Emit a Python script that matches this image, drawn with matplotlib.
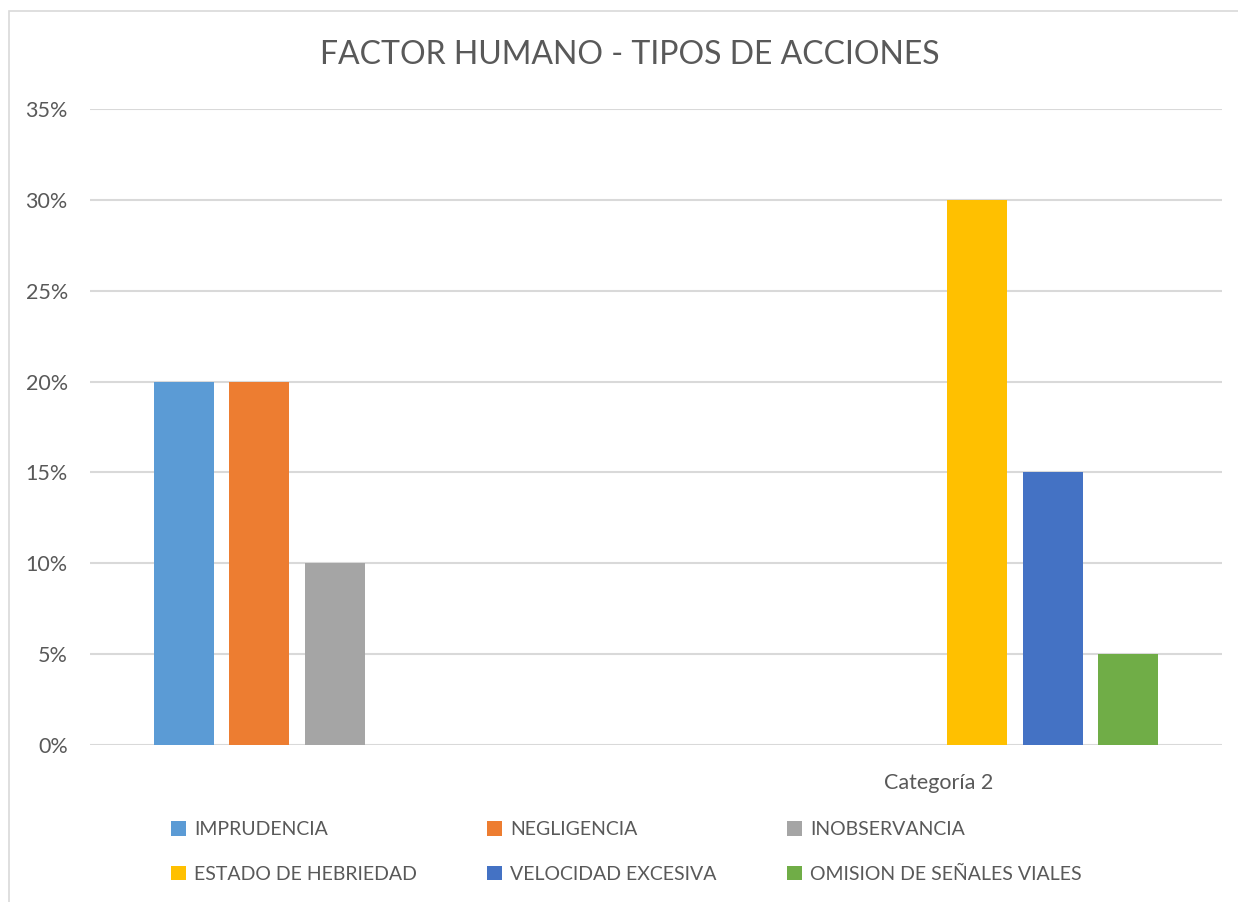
import matplotlib
matplotlib.use('Agg')
import numpy as np
import matplotlib.pyplot as plt
from matplotlib.patches import Rectangle
from matplotlib.ticker import PercentFormatter, MultipleLocator

categories = ['', 'Categoría 2']
series = ['IMPRUDENCIA', 'NEGLIGENCIA', 'INOBSERVANCIA',
          'ESTADO DE HEBRIEDAD', 'VELOCIDAD EXCESIVA', 'OMISION DE SEÑALES VIALES']
values = [
    [0.20, 0.0],
    [0.20, 0.0],
    [0.10, 0.0],
    [0.0, 0.30],
    [0.0, 0.15],
    [0.0, 0.05],
]
colors = ['#5B9BD5', '#ED7D31', '#A5A5A5', '#FFC000', '#4472C4', '#70AD47']

plt.rcParams['font.family'] = ['Lato', 'DejaVu Sans']
txt = '#595959'

fig = plt.figure(figsize=(12.38, 9.02), dpi=100)
ax = fig.add_axes([90/1238, 1-745/902, 1132/1238, 636/902])

x = np.arange(len(categories))
step = 0.1337
width = 0.106
handles = []
for i, (name, vals) in enumerate(zip(series, values)):
    b = ax.bar(x + (i-2.5)*step, vals, width, color=colors[i], label=name, zorder=3)
    handles.append(b)

ax.set_xlim(-0.5, 1.5)
ax.set_ylim(0, 0.35)
ax.yaxis.set_major_locator(MultipleLocator(0.05))
ax.yaxis.set_major_formatter(PercentFormatter(1.0, decimals=0))
ax.grid(axis='y', color='#d9d9d9', linewidth=1.5, zorder=0)
ax.set_xticks(x)
ax.set_xticklabels(categories)
ax.tick_params(length=0, labelsize=15.5, colors=txt)
ax.tick_params(axis='y', pad=16)
ax.tick_params(axis='x', pad=20)
for s in ax.spines.values():
    s.set_visible(False)

fig.text(630/1238, 1-55/902, 'FACTOR HUMANO - TIPOS DE ACCIONES',
         ha='center', va='center', fontsize=23, color=txt)

# legend in Excel row order (matplotlib fills columns)
order = [0, 3, 1, 4, 2, 5]
leg = fig.legend([handles[k] for k in order], [series[k] for k in order],
                 ncol=3, loc='center left', bbox_to_anchor=(153/1238, 1-852/902),
                 frameon=False, fontsize=14, handlelength=0.8, handleheight=0.8,
                 handletextpad=0.4, columnspacing=3.6, labelspacing=1.4,
                 labelcolor=txt)

fig.patches.append(Rectangle((9/1238, -0.01), 1.02, 1-11/902+0.01,
                             transform=fig.transFigure, fill=False,
                             edgecolor='#d9d9d9', linewidth=1.2))

fig.savefig('out.png', dpi=100, facecolor='white')
